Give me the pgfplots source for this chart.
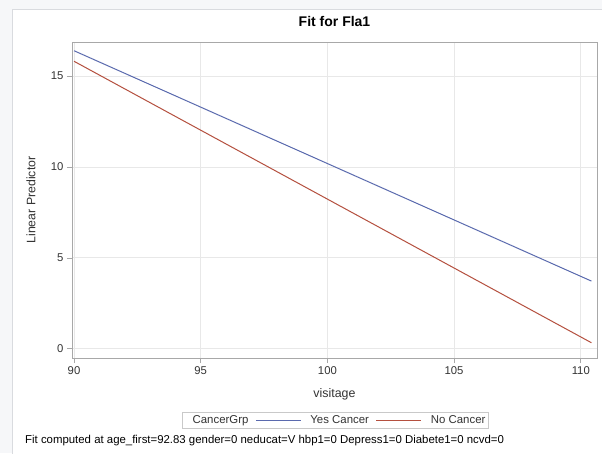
\documentclass[border=0pt]{standalone}
\usepackage{pgfplots}
\pgfplotsset{compat=1.18}
\usepackage{fontspec}
\setmainfont{Liberation Sans}
\definecolor{bgout}{HTML}{F6F7F9}
\definecolor{frameline}{HTML}{D9DBDF}
\definecolor{gridc}{HTML}{E8E8E8}
\definecolor{axc}{HTML}{A8A8A8}
\definecolor{textc}{HTML}{333333}
\definecolor{sasblue}{HTML}{5A6AAE}
\definecolor{sasred}{HTML}{B5503F}
\begin{document}
\begin{tikzpicture}[x=1pt,y=1pt]
\useasboundingbox (0,0) rectangle (602,453);
\fill[bgout] (0,0) rectangle (602,453);
\fill[white] (12,-2) rectangle (604,443);
\draw[frameline, line width=1pt] (12,-2) -- (12,443) -- (604,443);
\begin{axis}[
  at={(72pt,95pt)}, anchor=south west,
  scale only axis, width=525pt, height=316pt,
  xmin=89.92, xmax=110.64, ymin=-0.51, ymax=16.87,
  xtick={90,95,100,105,110}, ytick={0,5,10,15},
  xtick pos=left, ytick pos=left,
  tick align=outside, major tick length=5pt,
  tick style={axc, line width=0.6pt},
  axis line style={axc, line width=0.8pt},
  grid=major, major grid style={gridc, line width=0.7pt},
  /pgf/number format/assume math mode=true,
  ticklabel style={font=\fontsize{11.3}{13}\selectfont, text=textc},
  title={Fit for Fla1},
  title style={font=\bfseries\fontsize{14}{16}\selectfont, at={(axis description cs:0.5,1.047)}, anchor=center},
  xlabel={visitage},
  xlabel style={font=\fontsize{12.4}{14}\selectfont, text=textc, at={(axis description cs:0.5,-0.114)}, anchor=center},
  ylabel={Linear Predictor},
  ylabel style={font=\fontsize{12.3}{14}\selectfont, text=textc, at={(axis description cs:-0.078,0.5)}, anchor=center},
  legend columns=3,
  legend style={at={(axis description cs:0.502,-0.198)}, anchor=center,
    draw=gridc!70!gray, line width=0.8pt, font=\fontsize{11.4}{13}\selectfont, text=textc,
    inner sep=1pt, row sep=0pt,
    /tikz/every even column/.append style={column sep=5pt},
    /tikz/every odd column/.append style={column sep=7pt}},
  legend image code/.code={\draw[#1] (0pt,0pt) -- (45pt,0pt);},
]
\addlegendimage{empty legend}
\addlegendentry{CancerGrp\hspace{9pt}}
\addplot[sasblue, line width=1pt] coordinates {(90,16.39) (110.42,3.72)};
\addlegendentry{Yes Cancer}
\addplot[sasred, line width=1pt] coordinates {(90,15.81) (110.42,0.33)};
\addlegendentry{No Cancer}
\end{axis}
\node[anchor=west, inner sep=0pt, font=\fontsize{11.4}{13}\selectfont, text=black] at (25,12) {Fit computed at age\_first=92.83 gender=0 neducat=V hbp1=0 Depress1=0 Diabete1=0 ncvd=0};
\end{tikzpicture}
\end{document}
